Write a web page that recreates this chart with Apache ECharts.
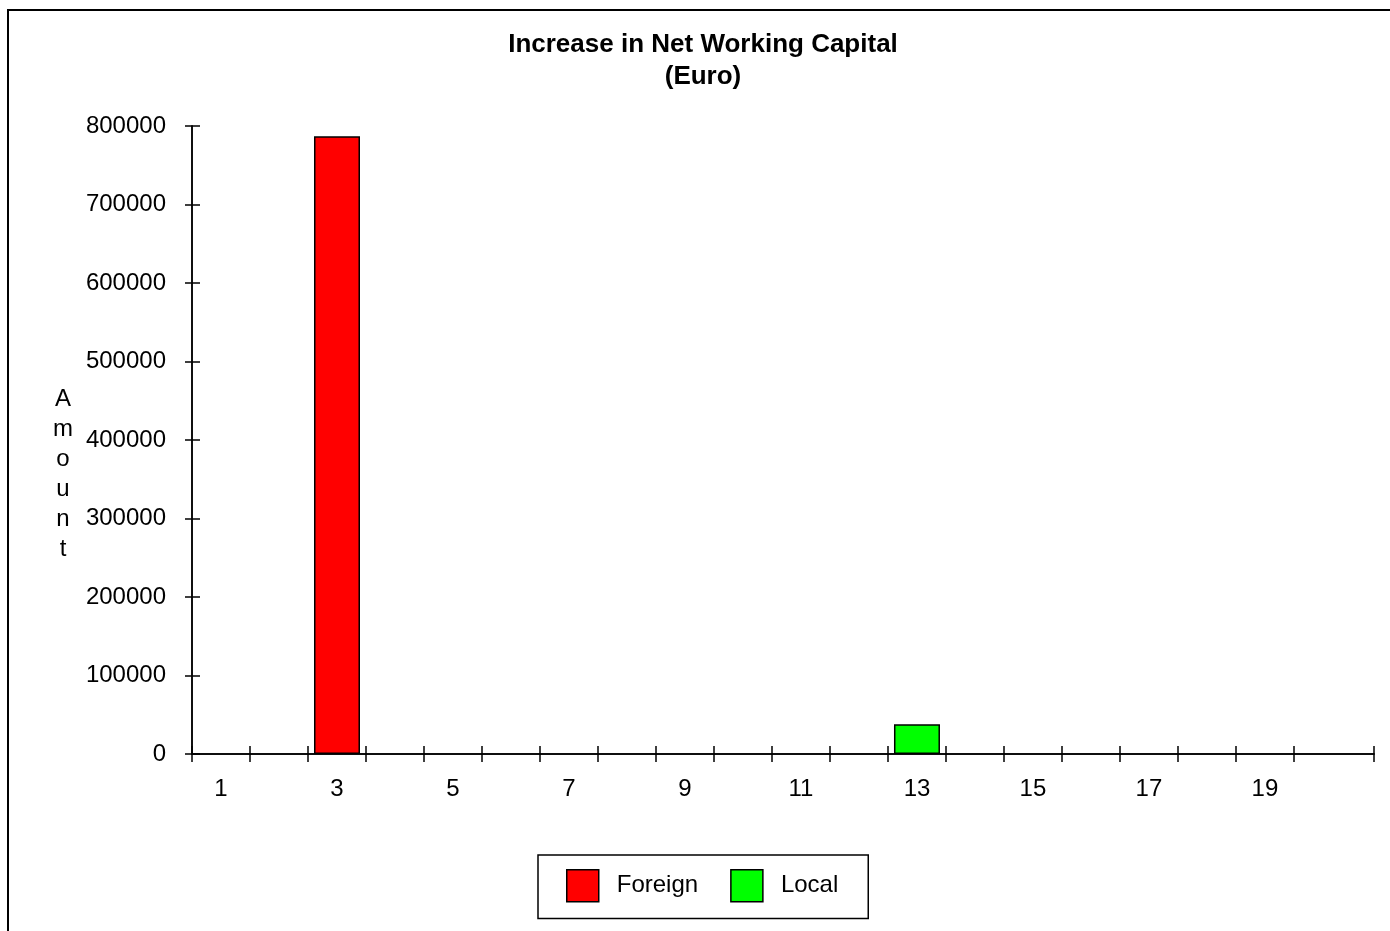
<!DOCTYPE html>
<html>
<head>
<meta charset="utf-8">
<script src="https://cdn.jsdelivr.net/npm/echarts@6/dist/echarts.min.js"></script>
<style>
  body { margin: 0; background: #fff; overflow: hidden; }
  #chart { position: absolute; left: 0; top: 0; width: 1390px; height: 931px; }
  #frame { position: absolute; left: 7px; top: 9px; width: 1500px; height: 1000px;
           border-left: 2px solid #000; border-top: 2px solid #000; pointer-events: none; }
</style>
</head>
<body>
<div id="chart"></div>
<div id="frame"></div>
<script>
const categories = [1, 2, 3, 4, 5, 6, 7, 8, 9, 10, 11, 12, 13, 14, 15, 16, 17, 18, 19, 20];
const foreignValues = [0, 0, 787000, 0, 0, 0, 0, 0, 0, 0, 0, 0, 0, 0, 0, 0, 0, 0, 0, 0];
const localValues = [0, 0, 0, 0, 0, 0, 0, 0, 0, 0, 0, 0, 38000, 0, 0, 0, 0, 0, 0, 0];
const xLabels = [1, 3, 5, 7, 9, 11, 13, 15, 17, 19];

const font = '"Liberation Sans", Arial, sans-serif';
const xMin = 0.5;
const xMax = 20.88;

// tick marks sit on the category boundaries, plus one at the axis end
const xTicks = categories.map(c => c - 0.5).concat([xMax]);

const toPoints = (vals) => vals.map((v, i) => [categories[i], v === 0 ? null : v]);

const getOption = () => {
  const xBase = {
    type: 'value',
    min: xMin,
    max: xMax,
    position: 'bottom',
    splitLine: { show: false },
    axisLine: { onZero: false, lineStyle: { color: '#000', width: 1.5 } }
  };
  const yBase = {
    type: 'value',
    min: 0,
    max: 800000,
    interval: 100000,
    position: 'left',
    splitLine: { show: false },
    axisLine: { show: true, lineStyle: { color: '#000', width: 1.5 } }
  };
  return {
    backgroundColor: '#fff',
    animation: false,
    title: [
      {
        text: 'Increase in Net Working Capital\n(Euro)',
        left: 698,
        textAlign: 'center',
        top: 24,
        textStyle: { fontFamily: font, fontSize: 26, fontWeight: 'bold', color: '#000', lineHeight: 32 }
      },
      {
        // stacked vertical axis title
        text: 'A\nm\no\nu\nn\nt',
        left: 58,
        textAlign: 'center',
        top: 379,
        textStyle: { fontFamily: font, fontSize: 24, fontWeight: 'normal', color: '#000', lineHeight: 30 }
      }
    ],
    legend: {
      left: 538,
      top: 855,
      orient: 'horizontal',
      padding: [14, 30, 16, 28],
      itemGap: 32,
      itemWidth: 32,
      itemHeight: 32,
      borderColor: '#000',
      borderWidth: 1.5,
      icon: 'rect',
      itemStyle: { borderColor: '#000', borderWidth: 1.5 },
      textStyle: { fontFamily: font, fontSize: 24, color: '#000', padding: [0, 0, 0, 13] },
      data: ['Foreign', 'Local']
    },
    grid: { left: 192, right: 16, top: 126, bottom: 177 },
    xAxis: [
      Object.assign({}, xBase, {
        axisTick: { show: true, customValues: xTicks, length: 8, lineStyle: { color: '#000', width: 1.5 } },
        axisLabel: {
          show: true, customValues: xLabels, margin: 23,
          fontFamily: font, fontSize: 24, color: '#000'
        }
      }),
      Object.assign({}, xBase, {
        axisTick: { show: true, inside: true, customValues: xTicks, length: 8, lineStyle: { color: '#000', width: 1.5 } },
        axisLabel: { show: false }
      })
    ],
    yAxis: [
      Object.assign({}, yBase, {
        axisTick: { show: true, length: 7, lineStyle: { color: '#000', width: 1.5 } },
        axisLabel: {
          margin: 26, fontFamily: font, fontSize: 24, color: '#000',
          formatter: (v) => String(v)
        }
      }),
      Object.assign({}, yBase, {
        axisTick: { show: true, inside: true, length: 8, lineStyle: { color: '#000', width: 1.5 } },
        axisLabel: { show: false }
      })
    ],
    series: [
      {
        name: 'Foreign',
        type: 'bar',
        stack: 'amount',
        barWidth: 46,
        xAxisIndex: 0,
        yAxisIndex: 0,
        itemStyle: { color: '#ff0000', borderColor: '#000', borderWidth: 1.5 },
        data: toPoints(foreignValues)
      },
      {
        name: 'Local',
        type: 'bar',
        stack: 'amount',
        barWidth: 46,
        xAxisIndex: 0,
        yAxisIndex: 0,
        itemStyle: { color: '#00ff00', borderColor: '#000', borderWidth: 1.5 },
        data: toPoints(localValues)
      }
    ]
  };
};

window.addEventListener('load', () => {
  const chart = echarts.init(document.getElementById('chart'), null, { renderer: 'canvas' });
  chart.setOption(getOption());
});
</script>
</body>
</html>
